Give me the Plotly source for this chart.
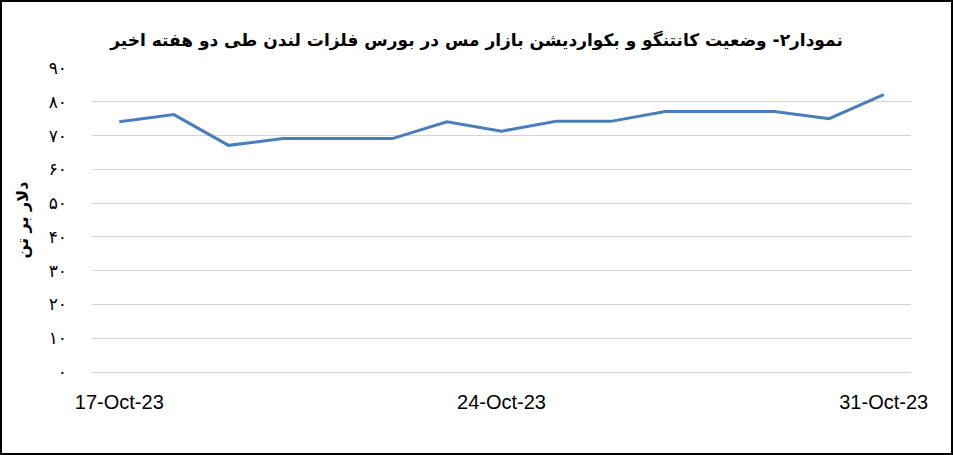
import plotly.graph_objects as go

dates = ['2023-10-17', '2023-10-18', '2023-10-19', '2023-10-20', '2023-10-21',
         '2023-10-22', '2023-10-23', '2023-10-24', '2023-10-25', '2023-10-26',
         '2023-10-27', '2023-10-28', '2023-10-29', '2023-10-30', '2023-10-31']
spread = [74.1, 76.2, 67.1, 69.1, 69.1, 69.1, 74.1, 71.3, 74.2, 74.2,
          77.1, 77.1, 77.1, 75.0, 82.1]

y_ticks = [0, 10, 20, 30, 40, 50, 60, 70, 80, 90]
y_labels = ['۰', '۱۰', '۲۰', '۳۰', '۴۰', '۵۰', '۶۰', '۷۰', '۸۰', '۹۰']
x_ticks = ['2023-10-17', '2023-10-24', '2023-10-31']

title = 'نمودار۲- وضعیت کانتنگو و بکواردیشن بازار مس در بورس فلزات لندن طی دو هفته اخیر'
y_title = 'دلار بر تن'

W, H = 953, 455
ml, mr, mt, mb = 92, 42, 68, 83
pw, ph = W - ml - mr, H - mt - mb

fig = go.Figure()
fig.add_trace(go.Scatter(x=dates, y=spread, mode='lines',
                         line=dict(color='#4a7ebb', width=3)))

fig.update_layout(
    width=W, height=H,
    margin=dict(l=ml, r=mr, t=mt, b=mb),
    paper_bgcolor='white', plot_bgcolor='white',
    showlegend=False,
    title=dict(text='<b>' + title + '</b>', x=0.5, xanchor='center',
               y=1 - 40 / H, yanchor='middle',
               font=dict(family='DejaVu Sans', size=17, color='black')),
    xaxis=dict(type='date', range=['2023-10-16 12:00', '2023-10-31 12:00'],
               tickvals=x_ticks, tickformat='%d-%b-%y', showgrid=False,
               zeroline=False, showline=False, ticks='',
               ticklabelstandoff=16,
               tickfont=dict(family='Liberation Sans', size=20, color='black')),
    yaxis=dict(range=[0, 90], tickvals=y_ticks, ticktext=y_labels,
               showgrid=True, gridcolor='#d4d4d4', gridwidth=1,
               zeroline=True, zerolinecolor='#d4d4d4', zerolinewidth=1,
               showline=False, ticks='',
               ticklabelstandoff=24,
               tickfont=dict(family='DejaVu Sans', size=17, color='black'),
               title=dict(text='<b>' + y_title + '</b>', standoff=16,
                          font=dict(family='DejaVu Sans', size=16, color='black'))),
)

# outer frame
fig.add_shape(type='rect', xref='paper', yref='paper',
              x0=-ml / pw, x1=1 + mr / pw, y0=-mb / ph, y1=1 + mt / ph,
              line=dict(color='black', width=4))

fig.write_html('out.html', config={'displayModeBar': False},
               post_script="document.body.style.margin='0';document.body.style.overflow='hidden';")
